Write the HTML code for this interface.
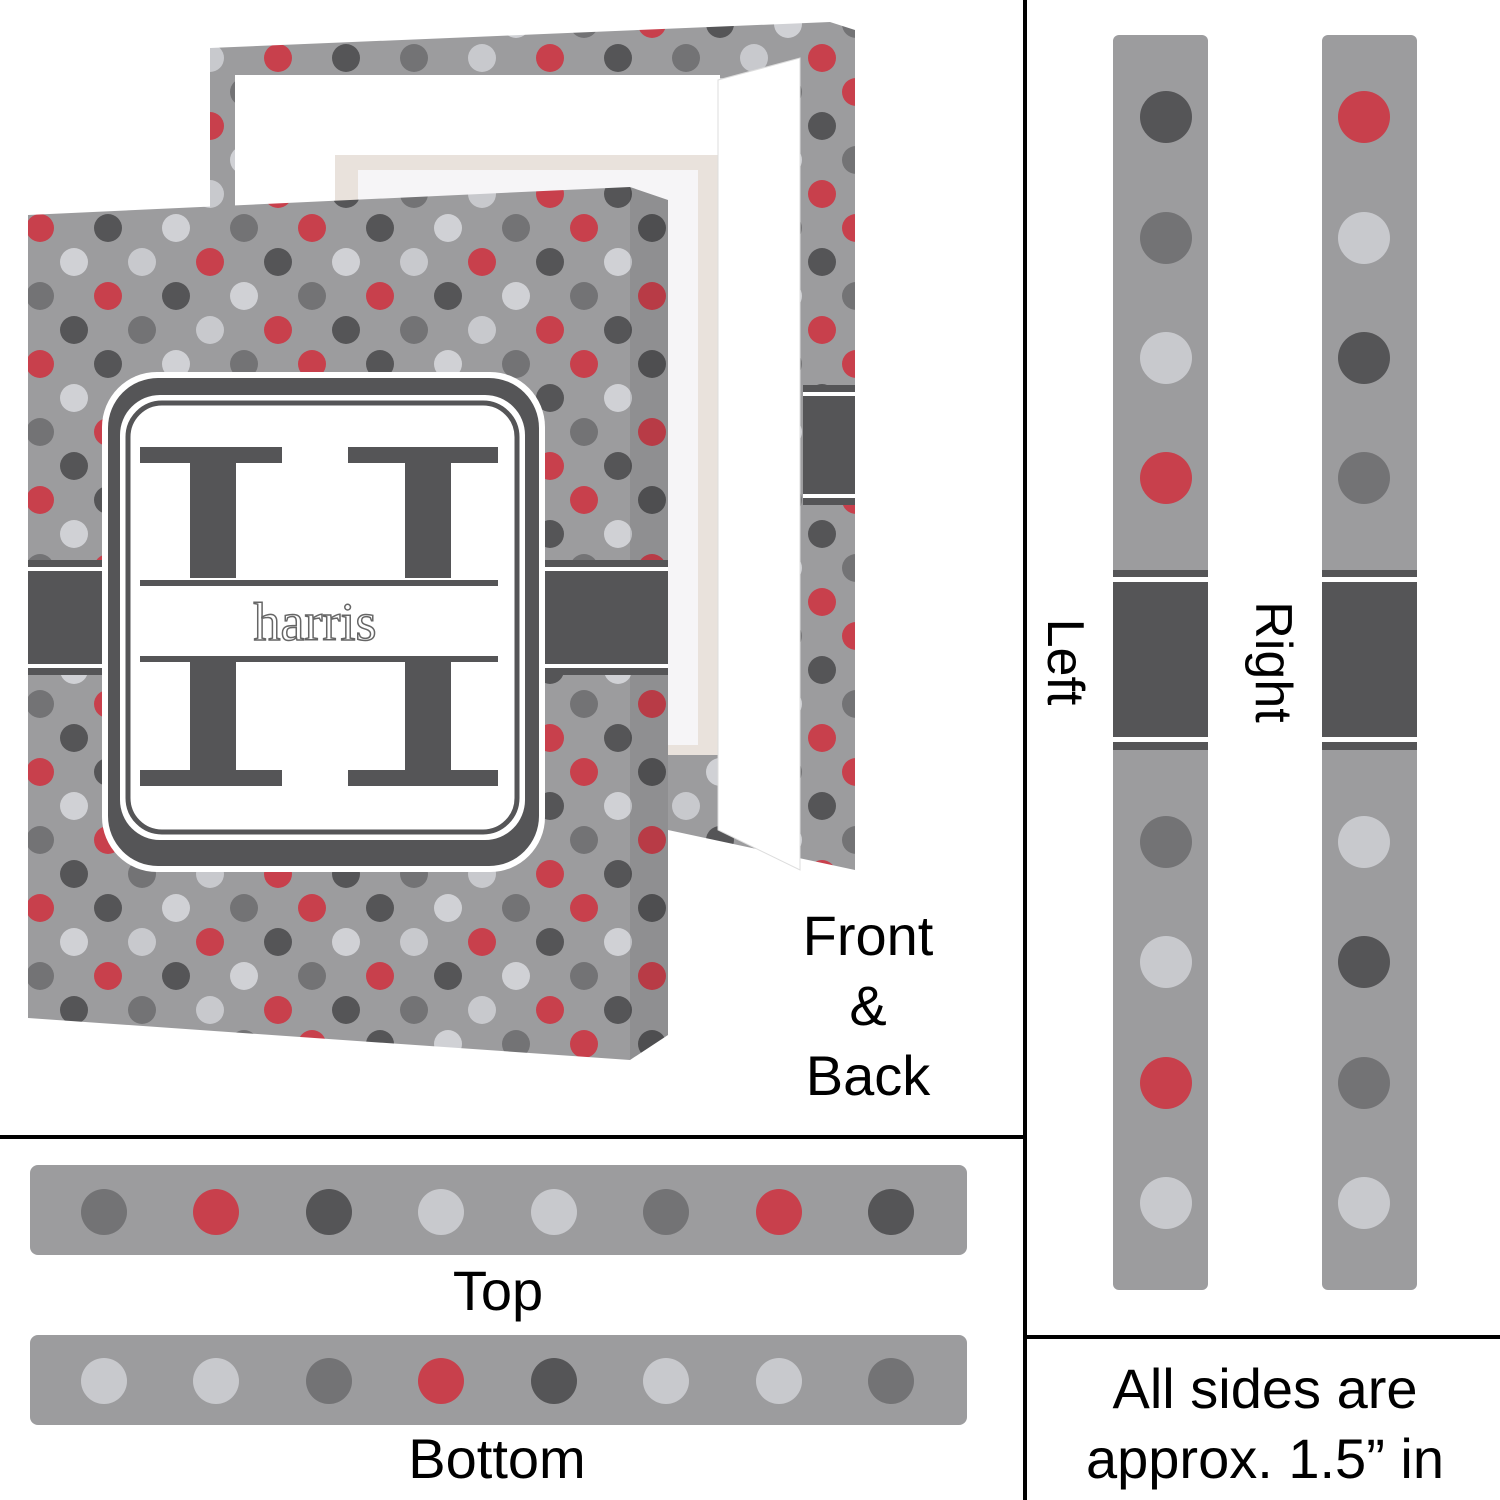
<!DOCTYPE html>
<html><head><meta charset="utf-8"><style>
html,body{margin:0;padding:0;background:#fff;width:1500px;height:1500px;overflow:hidden}
svg{display:block}
text{font-family:"Liberation Sans",sans-serif;fill:#000}
</style></head><body>
<svg width="1500" height="1500" viewBox="0 0 1500 1500" xmlns="http://www.w3.org/2000/svg">
<defs>
<pattern id="dots" x="6" y="194" width="272" height="136" patternUnits="userSpaceOnUse">
<rect width="272" height="136" fill="#9c9c9e"/>
<circle cx="34" cy="34" r="14" fill="#c8404c"/>
<circle cx="102" cy="34" r="14" fill="#555557"/>
<circle cx="170" cy="34" r="14" fill="#d0d1d5"/>
<circle cx="238" cy="34" r="14" fill="#737375"/>
<circle cx="68" cy="68" r="14" fill="#d0d1d5"/>
<circle cx="136" cy="68" r="14" fill="#c8c9cd"/>
<circle cx="204" cy="68" r="14" fill="#c8404c"/>
<circle cx="272" cy="68" r="14" fill="#555557"/>
<circle cx="0" cy="68" r="14" fill="#555557"/>
<circle cx="34" cy="102" r="14" fill="#737375"/>
<circle cx="102" cy="102" r="14" fill="#c8404c"/>
<circle cx="170" cy="102" r="14" fill="#555557"/>
<circle cx="238" cy="102" r="14" fill="#d0d1d5"/>
<circle cx="68" cy="136" r="14" fill="#555557"/>
<circle cx="68" cy="0" r="14" fill="#555557"/>
<circle cx="136" cy="136" r="14" fill="#737375"/>
<circle cx="136" cy="0" r="14" fill="#737375"/>
<circle cx="204" cy="136" r="14" fill="#c8c9cd"/>
<circle cx="204" cy="0" r="14" fill="#c8c9cd"/>
<circle cx="0" cy="136" r="14" fill="#c8404c"/>
<circle cx="272" cy="136" r="14" fill="#c8404c"/>
<circle cx="0" cy="0" r="14" fill="#c8404c"/>
<circle cx="272" cy="0" r="14" fill="#c8404c"/>
</pattern>
</defs>

<!-- back canvas -->
<polygon points="210,48 830,22 855,30 855,870 668,830 210,830" fill="url(#dots)"/>
<rect x="235" y="75" width="100" height="755" fill="#fff"/>
<rect x="335" y="75" width="385" height="80" fill="#fff"/>
<rect x="335" y="155" width="385" height="600" fill="#e9e2dc"/>
<rect x="358" y="170" width="340" height="575" fill="#f6f5f7"/>
<polygon points="718,80 800,58 800,870 718,830" fill="#fff"/>
<polygon points="718,80 800,58 800,870 718,830" fill="none" stroke="#ddd"/>
<rect x="803" y="385" width="52" height="120" fill="#555557"/>
<rect x="803" y="392" width="52" height="4" fill="#fff"/>
<rect x="803" y="494" width="52" height="4" fill="#fff"/>

<!-- front canvas -->
<polygon points="630,187 668,200 668,1035 630,1060" fill="url(#dots)"/>
<polygon points="630,187 668,200 668,1035 630,1060" fill="#000" opacity="0.08"/>
<polygon points="28,215 630,187 630,1060 28,1018" fill="url(#dots)"/>
<rect x="28" y="560" width="640" height="115" fill="#555557"/>
<rect x="28" y="567" width="640" height="4" fill="#fff"/>
<rect x="28" y="664" width="640" height="4" fill="#fff"/>
<!-- emblem -->
<rect x="102" y="372" width="443" height="500" rx="55" fill="#fff"/>
<rect x="108" y="378" width="431" height="488" rx="50" fill="#555557"/>
<rect x="120" y="395" width="405" height="445" rx="40" fill="#fff"/>
<rect x="128" y="403" width="389" height="429" rx="34" fill="none" stroke="#555557" stroke-width="5"/>
<g fill="#555557">
<rect x="140" y="447" width="142" height="16"/><rect x="140" y="770" width="142" height="16"/>
<rect x="190" y="455" width="46" height="325"/>
<rect x="348" y="447" width="150" height="16"/><rect x="348" y="770" width="150" height="16"/>
<rect x="405" y="455" width="46" height="325"/>
</g>
<rect x="140" y="578" width="358" height="82" fill="#fff"/>
<rect x="140" y="580" width="358" height="6" fill="#555557"/>
<rect x="140" y="656" width="358" height="6" fill="#555557"/>
<text x="315" y="640" font-size="54" text-anchor="middle" style="font-family:'Liberation Serif',serif;fill:#fff;stroke:#666;stroke-width:1.5">harris</text>

<!-- labels -->
<text x="868" y="955" font-size="56" text-anchor="middle">Front</text>
<text x="868" y="1025" font-size="56" text-anchor="middle">&amp;</text>
<text x="868" y="1095" font-size="56" text-anchor="middle">Back</text>

<!-- lines -->
<rect x="1023" y="0" width="4" height="1500" fill="#000"/>
<rect x="0" y="1135" width="1025" height="4" fill="#000"/>
<rect x="1025" y="1335" width="475" height="4" fill="#000"/>

<!-- top strip -->
<rect x="30" y="1165" width="937" height="90" rx="8" fill="#9c9c9e"/>
<circle cx="104" cy="1212" r="23" fill="#737375"/><circle cx="216" cy="1212" r="23" fill="#c8404c"/>
<circle cx="329" cy="1212" r="23" fill="#555557"/><circle cx="441" cy="1212" r="23" fill="#c8c9cd"/>
<circle cx="554" cy="1212" r="23" fill="#c8c9cd"/><circle cx="666" cy="1212" r="23" fill="#737375"/>
<circle cx="779" cy="1212" r="23" fill="#c8404c"/><circle cx="891" cy="1212" r="23" fill="#555557"/>
<text x="498" y="1310" font-size="56" text-anchor="middle">Top</text>

<!-- bottom strip -->
<rect x="30" y="1335" width="937" height="90" rx="8" fill="#9c9c9e"/>
<circle cx="104" cy="1381" r="23" fill="#c8c9cd"/><circle cx="216" cy="1381" r="23" fill="#c8c9cd"/>
<circle cx="329" cy="1381" r="23" fill="#737375"/><circle cx="441" cy="1381" r="23" fill="#c8404c"/>
<circle cx="554" cy="1381" r="23" fill="#555557"/><circle cx="666" cy="1381" r="23" fill="#c8c9cd"/>
<circle cx="779" cy="1381" r="23" fill="#c8c9cd"/><circle cx="891" cy="1381" r="23" fill="#737375"/>
<text x="497" y="1478" font-size="56" text-anchor="middle">Bottom</text>

<!-- left strip -->
<rect x="1113" y="35" width="95" height="1255" rx="6" fill="#9c9c9e"/>
<circle cx="1166" cy="117" r="26" fill="#555557"/><circle cx="1166" cy="238" r="26" fill="#737375"/>
<circle cx="1166" cy="358" r="26" fill="#c8c9cd"/><circle cx="1166" cy="478" r="26" fill="#c8404c"/>
<circle cx="1166" cy="842" r="26" fill="#737375"/><circle cx="1166" cy="962" r="26" fill="#c8c9cd"/>
<circle cx="1166" cy="1083" r="26" fill="#c8404c"/><circle cx="1166" cy="1203" r="26" fill="#c8c9cd"/>
<rect x="1113" y="570" width="95" height="180" fill="#555557"/>
<rect x="1113" y="577" width="95" height="5" fill="#fff"/>
<rect x="1113" y="737" width="95" height="5" fill="#fff"/>

<!-- right strip -->
<rect x="1322" y="35" width="95" height="1255" rx="6" fill="#9c9c9e"/>
<circle cx="1364" cy="117" r="26" fill="#c8404c"/><circle cx="1364" cy="238" r="26" fill="#c8c9cd"/>
<circle cx="1364" cy="358" r="26" fill="#555557"/><circle cx="1364" cy="478" r="26" fill="#737375"/>
<circle cx="1364" cy="842" r="26" fill="#c8c9cd"/><circle cx="1364" cy="962" r="26" fill="#555557"/>
<circle cx="1364" cy="1083" r="26" fill="#737375"/><circle cx="1364" cy="1203" r="26" fill="#c8c9cd"/>
<rect x="1322" y="570" width="95" height="180" fill="#555557"/>
<rect x="1322" y="577" width="95" height="5" fill="#fff"/>
<rect x="1322" y="737" width="95" height="5" fill="#fff"/>

<text transform="translate(1048,662) rotate(90)" font-size="52" text-anchor="middle">Left</text>
<text transform="translate(1256,662) rotate(90)" font-size="52" text-anchor="middle">Right</text>

<text x="1265" y="1408" font-size="56" text-anchor="middle">All sides are</text>
<text x="1265" y="1478" font-size="56" text-anchor="middle">approx. 1.5” in</text>
</svg>
</body></html>
